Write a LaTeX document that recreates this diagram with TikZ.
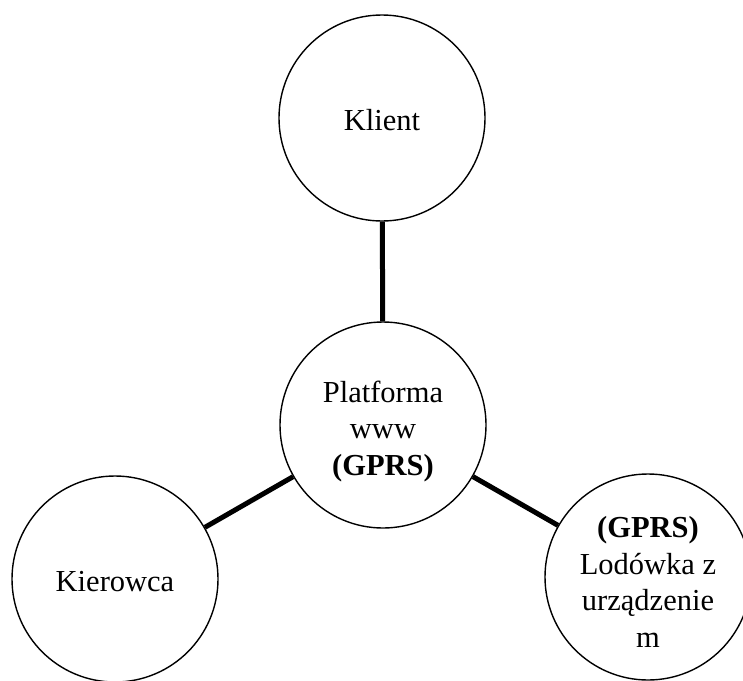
\documentclass[tikz,border=0pt]{standalone}
\usepackage{fontspec}
\setmainfont{Liberation Serif}
\begin{document}
\begin{tikzpicture}[x=1pt,y=-1pt,
  bubble/.style={draw=black,circle,line width=1.4pt,minimum size=206pt,inner sep=0pt},
  txt/.style={align=center,inner sep=0pt,font=\fontsize{30.5}{36.5}\selectfont},
  link/.style={line width=5pt,draw=black}]
\useasboundingbox (0,0) rectangle (743,680);
\node[bubble] (klient) at (382,118) {};
\node[bubble] (platf) at (383,425) {};
\node[bubble] (kier) at (115,579) {};
\node[bubble] (lod) at (648,577) {};
\node[txt] (klientT) at (382,120) {Klient};
\node[txt] (platfT) at (383,431) {Platforma\\www\\\textbf{(GPRS)}};
\node[txt] (kierT) at (115,582) {Kierowca};
\node[txt] (lodT) at (648,582) {\textbf{(GPRS)}\\Lodówka z\\urządzenie\\m};
\draw[link] (klient) -- (platf);
\draw[link] (platf) -- (kier);
\draw[link] (platf) -- (lod);
\end{tikzpicture}
\end{document}
